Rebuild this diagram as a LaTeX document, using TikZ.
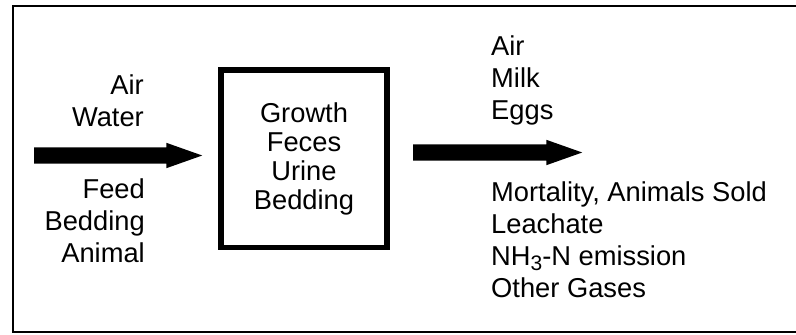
\documentclass[tikz,border=0pt]{standalone}
\usepackage{fontspec}
\setmainfont{Liberation Sans}
\usetikzlibrary{shapes.arrows,positioning}
\tikzstyle{every node}=[inner sep=0pt]
\tikzstyle{flowarrow} = [single arrow,fill=black,draw=none,inner xsep=0pt,inner ysep=8pt,minimum width=25pt,single arrow head extend=4.5pt,single arrow tip angle=39,single arrow head indent=0pt]
\tikzstyle{listtext} = [font=\fontsize{27.3}{32}\selectfont]
\tikzstyle{barnbox} = [draw,line width=5.5pt,minimum width=166pt,minimum height=177.5pt,align=center,font=\fontsize{27.3}{29}\selectfont]

\begin{document}
\begin{tikzpicture}[x=1pt,y=-1pt]
\useasboundingbox (0,0) rectangle (796,335);

% frame
\draw[line width=2.5pt] (13,6) rectangle (810,332);

% arrows
\node[flowarrow,minimum height=168pt,anchor=tail] (inflow) at (34,155.5) {};
\node[flowarrow,minimum height=169pt,anchor=tail] (outflow) at (413,152.5) {};

% animal
\node[barnbox] (barn) at (304,158.5) {Growth\\Feces\\Urine\\Bedding};

% inputs
\node[listtext,align=right,anchor=north east] (inair) at (144,75) {Air\\Water};
\node[listtext,align=right,anchor=north east] (infeed) at (145,179) {Feed\\Bedding\\Animal};

% outputs
\node[listtext,align=left,anchor=north west] (outair) at (491,36) {Air\\Milk\\Eggs};
\node[listtext,align=left,anchor=north west] (outloss) at (491,182) {Mortality, Animals Sold\\Leachate\\NH\raisebox{-5pt}{\fontsize{21}{21}\selectfont 3}-N emission\\Other Gases};

\end{tikzpicture}
\end{document}
